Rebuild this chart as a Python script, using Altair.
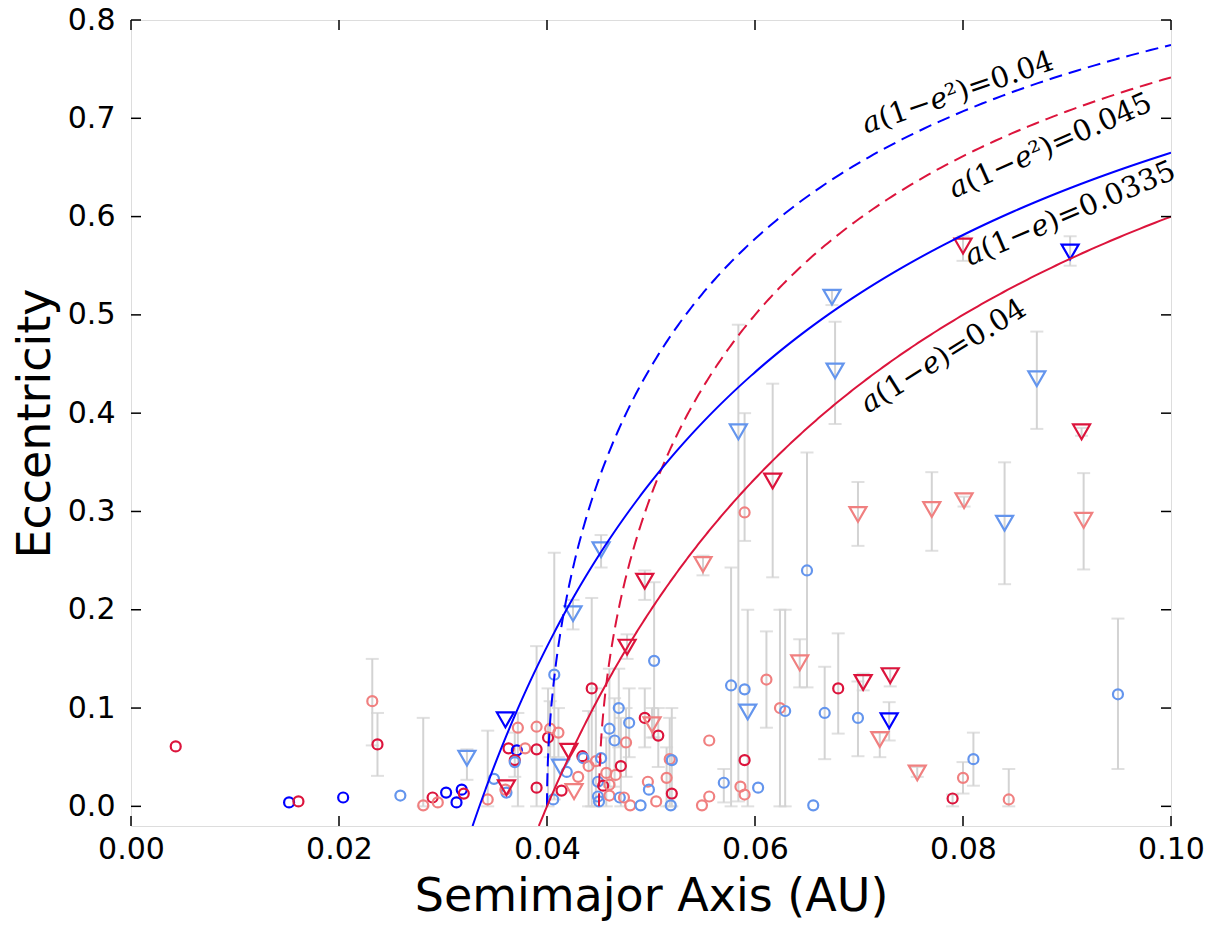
import altair as alt
import pandas as pd
import numpy as np

# ---------------- data ----------------
x_ticks = [0.00, 0.02, 0.04, 0.06, 0.08, 0.10]
y_ticks = [0.0, 0.1, 0.2, 0.3, 0.4, 0.5, 0.6, 0.7, 0.8]

# group: B=blue, LB=light blue, C=crimson, LC=light coral ; shape: o circle, v triangle
groups = ["C","B","C","B","LC","C","LB","LC","C","LC",
          "B","B","B","C","LB","LC","LB","B","C","LB",
          "LC","C","B","C","LB","LC","LC","LC","C","C",
          "C","LC","LB","LB","LC","LB","LB","C","C","LC",
          "LC","C","LB","LC","LC","LB","LB","LB","LB","C",
          "LC","LC","LC","LB","LB","LC","C","LB","LB","LC",
          "LB","LC","LC","LB","C","LC","C","LC","LB","LC",
          "LC","LC","LB","C","LB","LB","C","LB","LB","C",
          "C","LC","LC","LC","LC","LB","LB","LB","LC","LB",
          "LB","C","LC","LC","LB","LC","C","LC","LB","LB",
          "LC","LB","LB","LB","LB","C","LB","LC","C","C",
          "B","LC","LC","LC","C","LC","C","LC","LB","LC",
          "LB","LB","B","C","LC","LB"]
shapes = ["o","o","o","o","o","o","o","o","o","o",
          "o","o","o","o","v","o","o","v","v","o",
          "o","o","o","o","o","o","o","o","o","o",
          "o","o","o","o","o","v","o","v","o","v",
          "o","o","o","o","o","o","o","o","o","o",
          "o","o","o","o","o","o","o","o","o","o",
          "o","o","o","o","o","v","o","o","o","o",
          "o","o","o","o","o","o","o","v","v","v",
          "v","v","o","o","o","o","o","v","o","o",
          "v","o","o","o","o","o","v","o","o","o",
          "v","o","o","v","v","o","o","v","v","v",
          "v","v","v","v","v","v","o","o","o","o",
          "v","v","v","v","v","o"]
a_vals = [0.0043,0.0152,0.0161,0.0204,0.0232,0.0237,0.0259,0.0281,0.0290,0.0295,
          0.0303,0.0313,0.0318,0.0320,0.0323,0.0343,0.0349,0.0360,0.0361,0.0361,
          0.0360,0.0363,0.0371,0.0369,0.0369,0.0372,0.0379,0.0390,0.0390,0.0390,
          0.0401,0.0403,0.0407,0.0406,0.0411,0.0413,0.0419,0.0421,0.0414,0.0426,
          0.0430,0.0434,0.0435,0.0440,0.0447,0.0452,0.0449,0.0449,0.0450,0.0454,
          0.0457,0.0460,0.0460,0.0460,0.0465,0.0466,0.0471,0.0469,0.0479,0.0476,
          0.0470,0.0474,0.0480,0.0490,0.0494,0.0501,0.0507,0.0497,0.0498,0.0505,
          0.0515,0.0518,0.0520,0.0520,0.0519,0.0503,0.0443,0.0425,0.0452,0.0477,
          0.0494,0.0550,0.0549,0.0556,0.0556,0.0570,0.0577,0.0584,0.0590,0.0590,
          0.0593,0.0590,0.0586,0.0590,0.0603,0.0611,0.0617,0.0624,0.0629,0.0650,
          0.0643,0.0656,0.0667,0.0674,0.0677,0.0680,0.0699,0.0699,0.0704,0.0730,
          0.0729,0.0720,0.0756,0.0770,0.0800,0.0801,0.0790,0.0800,0.0810,0.0844,
          0.0840,0.0871,0.0903,0.0914,0.0916,0.0949]
e_vals = [0.061,0.004,0.005,0.009,0.107,0.063,0.011,0.001,0.009,0.004,
          0.014,0.004,0.017,0.013,0.049,0.007,0.028,0.088,0.019,0.014,
          0.017,0.059,0.057,0.047,0.045,0.080,0.059,0.081,0.058,0.019,
          0.070,0.079,0.134,0.007,0.075,0.040,0.035,0.056,0.016,0.015,
          0.030,0.051,0.049,0.041,0.046,0.049,0.025,0.010,0.005,0.021,
          0.034,0.022,0.011,0.079,0.067,0.032,0.041,0.100,0.085,0.065,
          0.009,0.009,0.001,0.001,0.090,0.083,0.072,0.025,0.017,0.005,
          0.029,0.048,0.047,0.013,0.001,0.148,0.120,0.196,0.261,0.162,
          0.229,0.246,0.001,0.010,0.067,0.024,0.123,0.381,0.299,0.119,
          0.096,0.047,0.020,0.012,0.019,0.129,0.331,0.100,0.097,0.240,
          0.146,0.001,0.095,0.518,0.443,0.120,0.090,0.297,0.126,0.133,
          0.087,0.068,0.034,0.302,0.570,0.311,0.008,0.029,0.048,0.007,
          0.288,0.435,0.564,0.381,0.291,0.114]
N = None
e_lo = [N,N,N,N,0.062,0.031,N,0.0,N,N,
        N,N,N,N,0.027,0.0,N,N,N,N,
        N,N,N,0.030,N,0.0,N,0.0,N,N,
        0.0,0.05,0.007,N,0.05,N,N,N,N,N,
        N,N,N,0.0,0.0,N,N,N,N,N,
        0.0,N,N,0.02,0.02,N,0.0,0.06,0.05,0.03,
        N,N,N,N,0.06,0.07,0.04,N,N,N,
        0.0,0.0,0.0,N,N,0.07,0.0,0.18,0.243,0.15,
        0.21,0.235,N,N,N,0.004,0.0,0.005,0.27,N,
        0.0,N,N,N,N,0.08,0.233,0.0,0.0,0.121,
        0.121,N,0.048,0.51,0.389,0.074,0.051,0.265,0.118,0.122,
        0.067,0.05,0.03,0.26,0.555,0.305,0.0,0.013,0.021,0.0,
        0.226,0.384,0.55,0.377,0.241,0.038]
e_hi = [N,N,N,N,0.150,0.095,N,0.090,N,N,
        N,N,N,N,0.058,0.077,N,N,N,N,
        N,N,N,0.075,N,0.095,N,0.163,N,N,
        0.12,0.107,0.258,N,0.10,N,N,N,N,N,
        N,N,N,0.097,0.12,N,N,N,N,N,
        0.07,N,N,0.14,0.11,N,0.09,0.14,0.12,0.10,
        N,N,N,N,0.12,0.10,0.10,N,N,N,
        0.06,0.09,0.10,N,N,0.228,0.212,0.21,0.276,0.175,
        0.24,0.255,N,N,N,0.038,0.243,0.49,0.40,N,
        0.20,N,N,N,N,0.178,0.43,0.20,0.20,0.36,
        0.17,N,0.142,0.525,0.493,0.176,0.127,0.33,0.135,0.14,
        0.106,0.075,0.04,0.34,0.58,0.315,0.012,0.045,0.075,0.038,
        0.35,0.483,0.58,0.385,0.339,0.191]

# curves a(1-e)=q  and  a(1-e^2)=p
curve_labels = ["𝑎(1−𝑒²)=0.04", "𝑎(1−𝑒²)=0.045", "𝑎(1−𝑒)=0.0335", "𝑎(1−𝑒)=0.04"]
curve_const = [0.04, 0.045, 0.0335, 0.04]
curve_kind = ["sq", "sq", "lin", "lin"]
curve_color = ["#0000FF", "#DC143C", "#0000FF", "#DC143C"]
curve_dashed = [True, True, False, False]
label_a = [0.0795, 0.0884, 0.0903, 0.0781]
label_e = [0.726, 0.672, 0.603, 0.458]
label_angle = [341, 336, 337, 328]

group_domain = ["B", "LB", "C", "LC"]
group_range = ["#0000FF", "#6495ED", "#DC143C", "#F08080"]

# ---------------- build tables ----------------
pts = pd.DataFrame({"a": a_vals, "e": e_vals, "lo": e_lo, "hi": e_hi,
                    "group": groups, "shape": shapes})
err = pts.dropna(subset=["lo", "hi"])

curve_rows = []
for lab, c, kind in zip(curve_labels, curve_const, curve_kind):
    if kind == "lin":
        e_grid = np.linspace(-0.02, 1 - c / 0.1, 300)
        a_grid = c / (1 - e_grid)
    else:
        e_grid = np.linspace(0.0, np.sqrt(1 - c / 0.1), 300)
        a_grid = c / (1 - e_grid ** 2)
    for aa, ee in zip(a_grid, e_grid):
        curve_rows.append({"curve": lab, "a": aa, "e": ee})
curves = pd.DataFrame(curve_rows)
labels_df = pd.DataFrame({"a": label_a, "e": label_e, "text": curve_labels, "angle": label_angle})

W, H = 1040, 806
xs = alt.Scale(domain=[0, 0.1], nice=False, zero=False)
ys = alt.Scale(domain=[-0.02, 0.8], nice=False, zero=False)
col = alt.Color("group:N", scale=alt.Scale(domain=group_domain, range=group_range), legend=None)

xax = alt.Axis(values=x_ticks, format=".2f", title="Semimajor Axis (AU)", grid=False, ticks=False,
               domain=False, labelFontSize=30, labelFont="DejaVu Sans", labelColor="black",
               labelPadding=8, labelFlush=False, labelOverlap=False,
               titleFontSize=46, titleFont="DejaVu Sans", titleFontWeight="normal", titleColor="black",
               titleY=84, titleBaseline="alphabetic")
yax = alt.Axis(values=y_ticks, format=".1f", title="Eccentricity", grid=False, ticks=False,
               domain=False, labelFontSize=30, labelFont="DejaVu Sans", labelColor="black",
               labelPadding=16, labelFlush=False, labelOverlap=False,
               titleFontSize=46, titleFont="DejaVu Sans", titleFontWeight="normal", titleColor="black",
               titleAngle=270, titleX=-82, titleY=H / 2, titleAlign="center", titleBaseline="alphabetic")

base_x = alt.X("a:Q", scale=xs, axis=xax)
base_y = alt.Y("e:Q", scale=ys, axis=yax)

err_rule = alt.Chart(err).mark_rule(color="#d3d3d3", strokeWidth=2).encode(
    x=base_x, y=alt.Y("lo:Q", scale=ys, axis=yax), y2="hi:Q")
err_lo = alt.Chart(err).mark_tick(color="#d3d3d3", orient="horizontal", size=13, thickness=2).encode(
    x=alt.X("a:Q", scale=xs), y=alt.Y("lo:Q", scale=ys))
err_hi = alt.Chart(err).mark_tick(color="#d3d3d3", orient="horizontal", size=13, thickness=2).encode(
    x=alt.X("a:Q", scale=xs), y=alt.Y("hi:Q", scale=ys))

circ = alt.Chart(pts[pts["shape"] == "o"]).mark_point(shape="circle", filled=False, size=100, strokeWidth=2.2, opacity=1).encode(
    x=base_x, y=base_y, color=col)
tri = alt.Chart(pts[pts["shape"] == "v"]).mark_point(shape="triangle-down", filled=False, size=290, strokeWidth=2.2, opacity=1).encode(
    x=base_x, y=base_y, color=col)

curve_layers = []
for lab, colr, dashed in zip(curve_labels, curve_color, curve_dashed):
    kw = dict(color=colr, strokeWidth=2, clip=True)
    if dashed:
        kw["strokeDash"] = [13, 7]
    curve_layers.append(
        alt.Chart(curves[curves["curve"] == lab]).mark_line(**kw).encode(
            x=alt.X("a:Q", scale=xs), y=alt.Y("e:Q", scale=ys), order="e:Q"))

txt = alt.Chart(labels_df).mark_text(font="DejaVu Serif", fontSize=29, color="black",
                                     align="center", baseline="middle").encode(
    x=alt.X("a:Q", scale=xs), y=alt.Y("e:Q", scale=ys), text="text:N", angle=alt.Angle("angle:Q", scale=None))

xt = pd.DataFrame({"v": x_ticks})
yt = pd.DataFrame({"v": y_ticks})
tick_style = dict(color="black", strokeWidth=1.5)
tx_bot = alt.Chart(xt).mark_rule(**tick_style).encode(x=alt.X("v:Q", scale=xs), y=alt.value(H), y2=alt.value(H - 10))
tx_top = alt.Chart(xt).mark_rule(**tick_style).encode(x=alt.X("v:Q", scale=xs), y=alt.value(0), y2=alt.value(10))
ty_l = alt.Chart(yt).mark_rule(**tick_style).encode(y=alt.Y("v:Q", scale=ys), x=alt.value(0), x2=alt.value(10))
ty_r = alt.Chart(yt).mark_rule(**tick_style).encode(y=alt.Y("v:Q", scale=ys), x=alt.value(W), x2=alt.value(W - 10))

chart = alt.layer(err_rule, err_lo, err_hi, circ, tri, *curve_layers, txt,
                  tx_bot, tx_top, ty_l, ty_r).properties(
    width=W, height=H,
    autosize=alt.AutoSizeParams(type="none"),
    padding={"left": 123, "top": 12, "right": 45, "bottom": 96},
).configure_view(stroke="black", strokeWidth=2).configure(background="white")

chart.save("out.html", embed_options={"renderer": "svg", "actions": False})
